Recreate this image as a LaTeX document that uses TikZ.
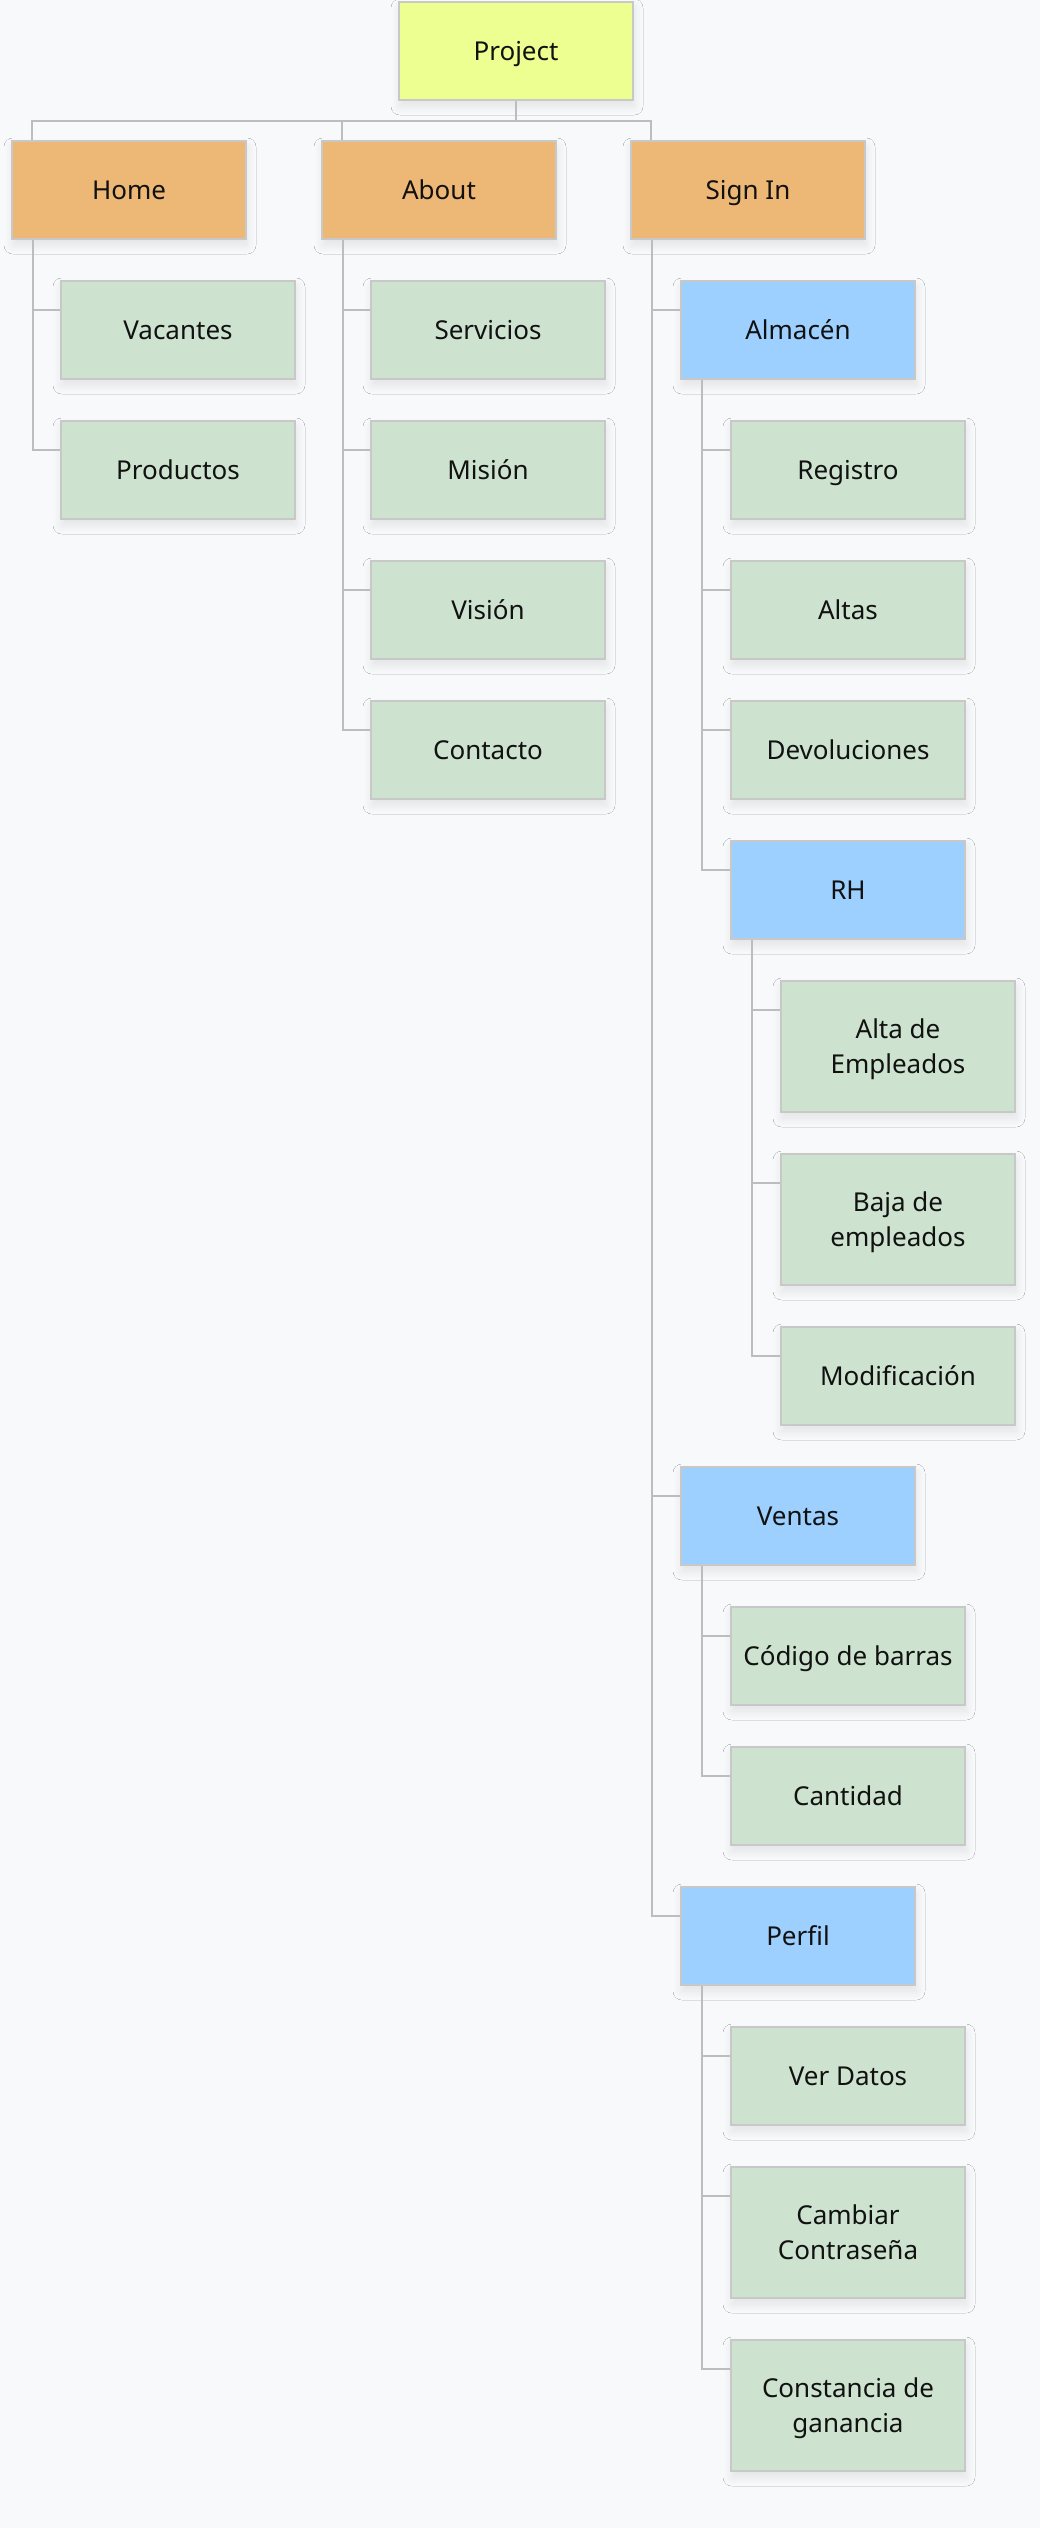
\documentclass[tikz,border=0pt]{standalone}
\usepackage{fontspec}
\newfontfamily\boxfont{Noto Sans}
\usetikzlibrary{calc,shadows.blur}
\definecolor{bgc}{HTML}{F8F9FB}
\definecolor{bordc}{HTML}{C8C8C8}
\definecolor{linec}{HTML}{BDBDBD}
\definecolor{yel}{HTML}{EDFF91}
\definecolor{ora}{HTML}{EDB776}
\definecolor{grn}{HTML}{CDE3CF}
\definecolor{blu}{HTML}{9DCFFF}
\definecolor{txt}{HTML}{111111}
\tikzset{
  basebox/.style={draw=bordc, line width=2pt, minimum width=234pt,
    anchor=north west, inner sep=0pt, align=center, text=txt,
    font=\boxfont\fontsize{26pt}{35.5pt}\selectfont,
    blur shadow={shadow xshift=1pt, shadow yshift=-6pt, shadow blur radius=9pt,
      shadow blur steps=12, shadow opacity=9}},
  box/.style={basebox, minimum height=98pt, text height=19pt, text depth=0pt},
  tallbox/.style={basebox, minimum height=131pt, text height=54.1pt, text depth=0pt},
  yb/.style={fill=yel}, ob/.style={fill=ora}, gb/.style={fill=grn}, bb/.style={fill=blu},
  conn/.style={draw=linec, line width=2pt}
}
\begin{document}
\begin{tikzpicture}[x=1pt,y=-1pt]
\fill[bgc] (0,0) rectangle (1040,2528);
\useasboundingbox (0,0) rectangle (1040,2528);
% nodes
\node[box,yb] (proj) at (398,1) {Project};
\node[box,ob] (home) at (11,140) {Home};
\node[box,ob] (about) at (321,140) {About};
\node[box,ob] (signin) at (630,140) {Sign In};
\node[box,gb] (vac) at (60,280) {Vacantes};
\node[box,gb] (prod) at (60,420) {Productos};
\node[box,gb] (serv) at (370,280) {Servicios};
\node[box,gb] (mis) at (370,420) {Misión};
\node[box,gb] (vis) at (370,560) {Visión};
\node[box,gb] (cont) at (370,700) {Contacto};
\node[box,bb] (alm) at (680,280) {Almacén};
\node[box,gb] (reg) at (730,420) {Registro};
\node[box,gb] (altas) at (730,560) {Altas};
\node[box,gb] (dev) at (730,700) {Devoluciones};
\node[box,bb] (rh) at (730,840) {RH};
\node[tallbox,gb] (alta) at (780,980) {Alta de\\Empleados};
\node[tallbox,gb] (baja) at (780,1153) {Baja de\\empleados};
\node[box,gb] (mod) at (780,1326) {Modificación};
\node[box,bb] (ven) at (680,1466) {Ventas};
\node[box,gb] (cod) at (730,1606) {Código de barras};
\node[box,gb] (cant) at (730,1746) {Cantidad};
\node[box,bb] (perf) at (680,1886) {Perfil};
\node[box,gb] (ver) at (730,2026) {Ver Datos};
\node[tallbox,gb] (camb) at (730,2166) {Cambiar\\Contraseña};
\node[tallbox,gb] (const) at (730,2339) {Constancia de\\ganancia};
% top connectors
\coordinate (bus) at ($(proj.south)+(0,20)$);
\draw[conn] (proj.south) -- (bus);
\foreach \c in {home,about,signin}{
  \draw[conn] ($(\c.north west)+(21,0)$) |- (bus);
}
% tree connectors
\foreach \p/\c in {home/vac,home/prod,about/serv,about/mis,about/vis,about/cont,
  signin/alm,signin/ven,signin/perf,alm/reg,alm/altas,alm/dev,alm/rh,
  rh/alta,rh/baja,rh/mod,ven/cod,ven/cant,perf/ver,perf/camb,perf/const}{
  \draw[conn] ($(\p.south west)+(22,0)$) |- ($(\c.north west)+(0,30)$);
}
\end{tikzpicture}
\end{document}
